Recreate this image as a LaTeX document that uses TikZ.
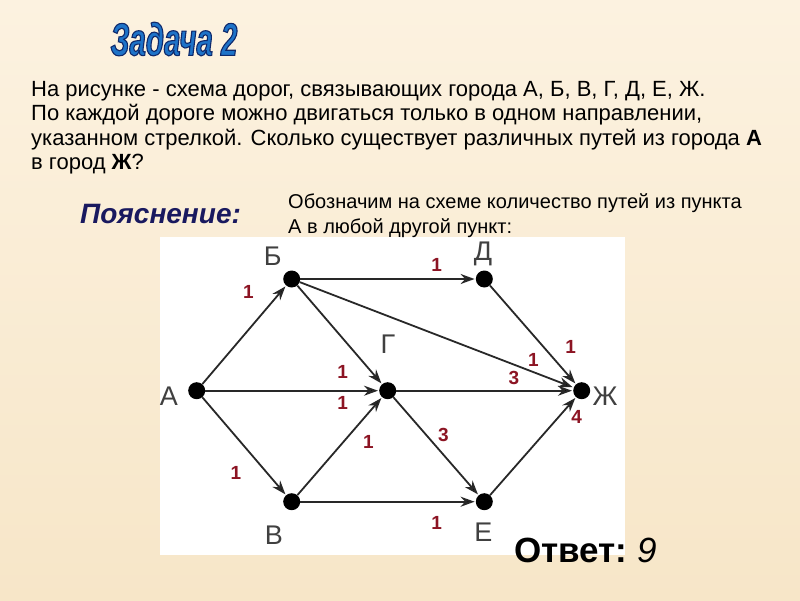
\documentclass[tikz,border=0pt]{standalone}
\usepackage{fontspec}
\setmainfont{Liberation Sans}
\newfontfamily\titlefont{Liberation Sans}[FakeStretch=0.64]
\usetikzlibrary{arrows.meta,positioning}
\definecolor{bgtop}{RGB}{252,242,224}
\definecolor{bgbot}{RGB}{247,230,200}
\definecolor{roadgray}{RGB}{40,40,40}
\definecolor{cntred}{RGB}{140,20,35}
\definecolor{titleblue}{RGB}{30,115,200}
\definecolor{navy}{RGB}{25,25,95}
\newcommand{\outlinetext}[1]{\special{pdf:literal direct 2 Tr 1.1 w 0.06 0.16 0.42 RG}#1\special{pdf:literal direct 0 Tr 0 0 0 RG}}
\tikzset{
  town/.style = {circle, fill=black, inner sep=0pt, minimum size=17pt},% punkt
  town_l/.style = {inner sep=0pt, text=black!75, font=\fontsize{27}{27}\selectfont},% imya punkta
  cnt_r/.style = {inner sep=0pt, text=cntred, font=\fontsize{19}{19}\selectfont\bfseries},% chislo putej
  road/.style = {->, draw=roadgray, line width=1.8pt, shorten >=1pt},
  txt/.style = {inner sep=0pt, anchor=base west, font=\fontsize{22}{22}\selectfont},
}
\begin{document}
\begin{tikzpicture}[x=1pt,y=-1pt,>={Stealth[length=14pt,width=10pt]}]
  \useasboundingbox (0,0) rectangle (800,600);
  \shade[top color=bgtop,bottom color=bgbot] (0,0) rectangle (800,600);
  \fill[white] (160,237) rectangle (625,555);
%   header
  \node[inner sep=0pt, text=titleblue, font=\titlefont\fontsize{46}{46}\selectfont\bfseries\itshape] (title) at (174,39) {\outlinetext{Задача 2}};
  \node[txt] (t1) at (31,96) {На рисунке - схема дорог, связывающих города А, Б, В, Г, Д, Е, Ж.};
  \node[txt] (t2) at (31,120.5) {По каждой дороге можно двигаться только в одном направлении,};
  \node[txt] (t3) at (31,145) {указанном стрелкой. Сколько существует различных путей из города \textbf{А}};
  \node[txt] (t4) at (31,169.5) {в город \textbf{Ж}?};
  \node[inner sep=0pt, anchor=base west, text=navy, font=\fontsize{28}{28}\selectfont\bfseries\itshape] (expl) at (80,223) {Пояснение:};
  \node[txt, font=\fontsize{20}{20}\selectfont] (n1) at (288,208) {Обозначим на схеме количество путей из пункта};
  \node[txt, font=\fontsize{20}{20}\selectfont] (n2) at (288,233) {А в любой другой пункт:};
%   towns
  \node[town] (a) at (196.7,390.7) {};
  \node[town] (b) at (291.7,279) {};
  \node[town] (v) at (291.7,501.7) {};
  \node[town] (g) at (387.7,390.7) {};
  \node[town] (d) at (484.3,279) {};
  \node[town] (e) at (484.3,501.7) {};
  \node[town] (zh) at (581.7,390.7) {};
  \node[town_l] (la) at (169,396) {А};
  \node[town_l] (lb) at (272.7,256) {Б};
  \node[town_l] (lv) at (274,535) {В};
  \node[town_l] (lg) at (388,344) {Г};
  \node[town_l] (ld) at (483,254) {Д};
  \node[town_l] (le) at (483.3,532) {Е};
  \node[town_l] (lzh) at (605,396) {Ж};
%   roads
  \path[road] (a) edge (b);
  \path[road] (a) edge (g);
  \path[road] (a) edge (v);
  \path[road] (b) edge (d);
  \path[road] (b) edge (g);
  \path[road] (b) edge (zh);
  \path[road] (v) edge (g);
  \path[road] (v) edge (e);
  \path[road] (g) edge (zh);
  \path[road] (g) edge (e);
  \path[road] (d) edge (zh);
  \path[road] (e) edge (zh);
%   number of paths
  \node[cnt_r] (c1) at (248.3,291.7) {1};
  \node[cnt_r] (c2) at (436.7,265) {1};
  \node[cnt_r] (c3) at (570.7,347.3) {1};
  \node[cnt_r] (c4) at (533.3,360) {1};
  \node[cnt_r] (c5) at (514,378.3) {3};
  \node[cnt_r] (c6) at (342.7,371.7) {1};
  \node[cnt_r] (c7) at (342.7,403.3) {1};
  \node[cnt_r] (c8) at (368.3,441.7) {1};
  \node[cnt_r] (c9) at (443.3,435) {3};
  \node[cnt_r] (c10) at (236,472.7) {1};
  \node[cnt_r] (c11) at (436.7,523.3) {1};
  \node[cnt_r] (c12) at (576.7,417.3) {4};
%   answer
  \node[inner sep=0pt, anchor=base west, font=\fontsize{35}{35}\selectfont\bfseries] (ans) at (514,562) {Ответ:\ \textmd{\itshape 9}};
\end{tikzpicture}
\end{document}
